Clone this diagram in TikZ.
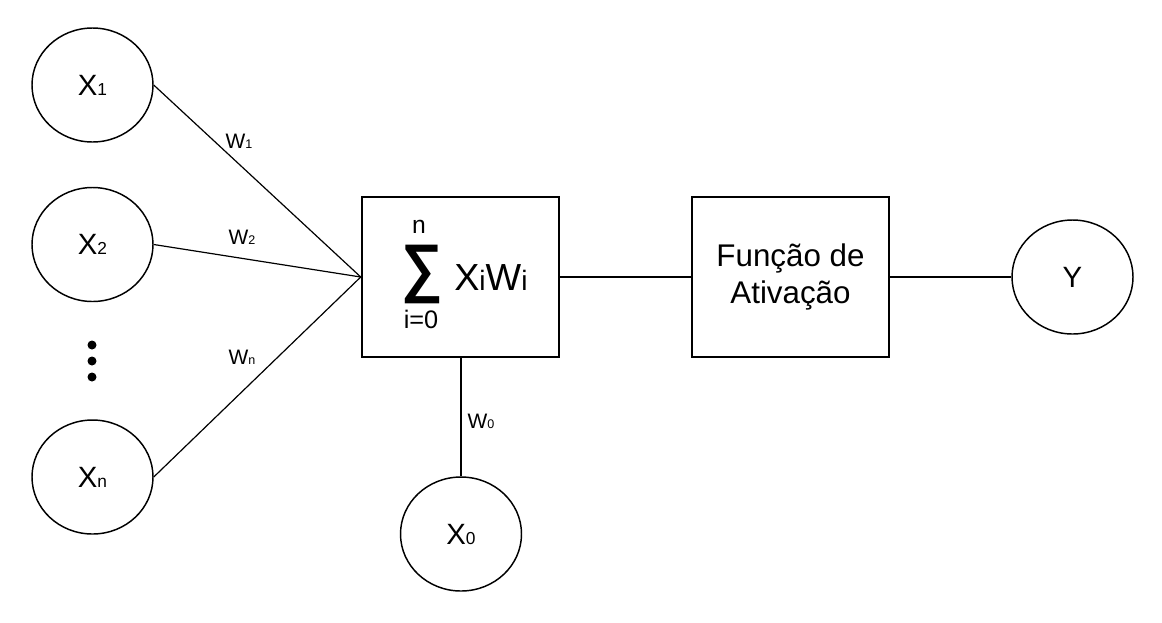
\documentclass[tikz,border=0pt]{standalone}
\usepackage{fontspec}
\setmainfont{Liberation Sans}
\usepackage{graphicx}
\usepackage{tikz}
\usetikzlibrary{positioning}
\usetikzlibrary{shapes.geometric}

\newcommand{\xvar}[2]{{\fontsize{22}{26}\selectfont #1}{\fontsize{13}{15}\selectfont #2}}
\newcommand{\wvar}[1]{{\fontsize{15.7}{18}\selectfont W}{\fontsize{9.4}{11}\selectfont #1}}

\tikzset{
  neuronio/.style={ellipse, draw, line width=1.1pt, minimum width=90.75pt, minimum height=85.5pt, inner sep=0pt},
  bloco/.style={rectangle, draw, line width=1.9pt, minimum width=147.75pt, minimum height=120pt, inner sep=0pt},
  liga/.style={line width=0.9pt},
  peso/.style={inner sep=0pt},
  ponto/.style={circle, fill, minimum size=6.75pt, inner sep=0pt}
}

\begin{document}
\begin{tikzpicture}[x=0.75pt,y=0.75pt,yscale=-1,xscale=1]
\useasboundingbox (0,0) rectangle (1162,622);

% Entradas
\node[neuronio] (x1) at (92.5,85) {\xvar{X}{1}};
\node[neuronio] (x2) at (92.5,244.5) {\xvar{X}{2}};
\node[neuronio] (xn) at (92.5,477) {\xvar{X}{n}};
\node[neuronio] (x0) at (461,534) {\xvar{X}{0}};
% Saida
\node[neuronio] (y) at (1072.5,277) {\fontsize{22}{26}\selectfont Y};

% Reticencias
\node[ponto] (p1) at (92,345) {};
\node[ponto] (p2) at (92,361) {};
\node[ponto] (p3) at (92,377) {};

% Blocos
\node[bloco] (soma) at (460.5,277) {};
\node[bloco, align=center, font=\fontsize{23.5}{27.75}\selectfont] (ativ) at (790.5,277) {Função de\\Ativação};

% Somatorio
\node[inner sep=0pt] (sigma) at (422,274) {\resizebox*{31pt}{44pt}{\bfseries ∑}};
\node[inner sep=0pt] (topo) at (419,227) {\fontsize{18.5}{20}\selectfont n};
\node[inner sep=0pt] (base) at (421,319) {\fontsize{19}{22}\selectfont i=0};
\node[inner sep=0pt, anchor=base west] (termo) at (454,290) {{\fontsize{28.3}{32}\selectfont X}{\fontsize{21}{24}\selectfont i}{\fontsize{28.3}{32}\selectfont W}{\fontsize{21}{24}\selectfont i}};

% Pesos
\node[peso] (w1) at (239,141) {\wvar{1}};
\node[peso] (w2) at (242,237) {\wvar{2}};
\node[peso] (wn) at (242,357) {\wvar{n}};
\node[peso] (w0) at (481,421) {\wvar{0}};

% Connection
\draw[liga] (x1.east) -- (soma.west);
\draw[liga] (x2.east) -- (soma.west);
\draw[liga] (xn.east) -- (soma.west);
\draw[liga] (x0.north) -- (x0.north |- soma.south);
\draw[liga] (soma.east) -- (ativ.west);
\draw[liga] (ativ.east) -- (y.west);

\end{tikzpicture}
\end{document}
